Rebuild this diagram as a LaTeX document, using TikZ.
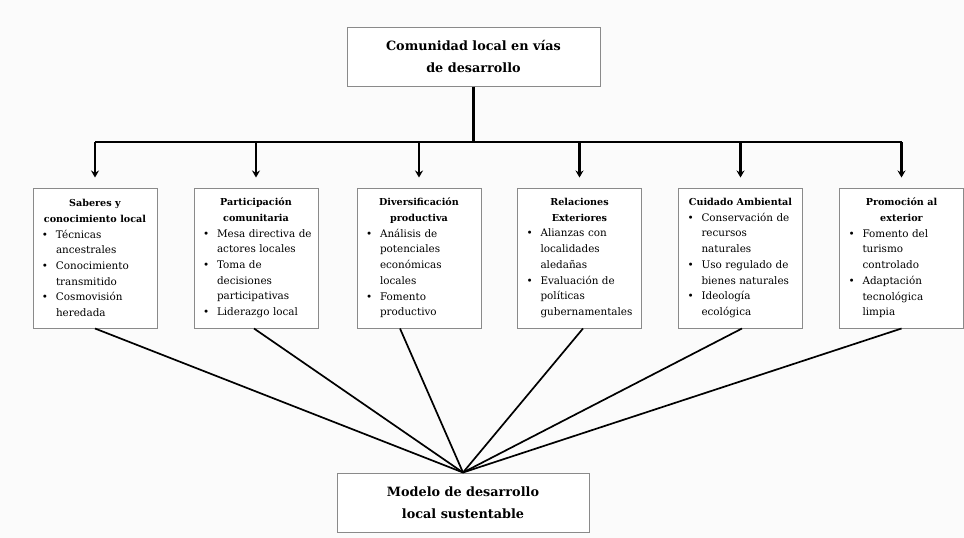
\documentclass[tikz,border=0pt]{standalone}
\usepackage{fontspec}
\setmainfont{DejaVu Serif}
\usetikzlibrary{arrows.meta}
\definecolor{boxgray}{HTML}{8A8A8A}
\definecolor{bgcol}{HTML}{FBFBFB}
\newcommand{\bu}{\makebox[19pt][l]{\hspace{5pt}\textbullet}}
\newcommand{\ct}{\hspace*{19pt}}
\newcommand{\hd}[1]{{\centering\bfseries\fontsize{9.6}{15.7}\selectfont #1\par}}
\begin{document}
\begin{tikzpicture}[x=1pt,y=-1pt,
  catbox/.style={draw=boxgray, line width=1pt, fill=white, minimum width=124pt,
    minimum height=140pt, text width=116pt, inner xsep=4pt, inner ysep=0pt,
    align=left, font=\fontsize{10.4}{15.7}\selectfont},
  mainbox/.style={draw=boxgray, line width=1pt, fill=white, minimum width=253pt,
    minimum height=59pt, align=center, font=\bfseries\fontsize{12.8}{22}\selectfont},
  arr/.style={-{Stealth[length=7pt,width=8pt]}, line width=2.1pt},
  bar/.style={line width=2.1pt},
  conn/.style={line width=1.7pt}]
\fill[bgcol] (0,0) rectangle (964,538);
\useasboundingbox (0,0) rectangle (964,538);

\node[mainbox] (top) at (473.5,56.5) {Comunidad local en vías\\de desarrollo};
\node[mainbox, minimum width=252pt] (bot) at (463,502.5) {Modelo de desarrollo\\local sustentable};

\node[catbox] (b1) at (95,258) {\hd{Saberes y\\conocimiento local}
\bu Técnicas\\ \ct ancestrales\\ \bu Conocimiento\\ \ct transmitido\\ \bu Cosmovisión\\ \ct heredada};
\node[catbox] (b2) at (256,258) {\hd{Participación\\comunitaria}
\bu Mesa directiva de\\ \ct actores locales\\ \bu Toma de\\ \ct decisiones\\ \ct participativas\\ \bu Liderazgo local};
\node[catbox] (b3) at (419,258) {\hd{Diversificación\\productiva}
\bu Análisis de\\ \ct potenciales\\ \ct económicas\\ \ct locales\\ \bu Fomento\\ \ct productivo};
\node[catbox] (b4) at (579.5,258) {\hd{Relaciones\\Exteriores}
\bu Alianzas con\\ \ct localidades\\ \ct aledañas\\ \bu Evaluación de\\ \ct políticas\\ \ct gubernamentales};
\node[catbox] (b5) at (740.5,258) {\hd{Cuidado Ambiental}
\bu Conservación de\\ \ct recursos\\ \ct naturales\\ \bu Uso regulado de\\ \ct bienes naturales\\ \bu Ideología\\ \ct ecológica};
\node[catbox] (b6) at (901.5,258) {\hd{Promoción al\\exterior}
\bu Fomento del\\ \ct turismo\\ \ct controlado\\ \bu Adaptación\\ \ct tecnológica\\ \ct limpia};

\coordinate (hub) at (top.south |- 0,142);
\draw[bar] (top.south) -- (hub);
\draw[bar] (b1.north |- hub) -- (b6.north |- hub);
\foreach \b in {b1,b2,b3,b4,b5,b6}
  \draw[arr] (\b.north |- hub) -- ([yshift=10pt]\b.north);

\draw[conn] (b1.south) -- (bot.north);
\draw[conn] ([xshift=-2pt]b2.south) -- (bot.north);
\draw[conn] ([xshift=-19pt]b3.south) -- (bot.north);
\draw[conn] ([xshift=3.5pt]b4.south) -- (bot.north);
\draw[conn] ([xshift=1.5pt]b5.south) -- (bot.north);
\draw[conn] (b6.south) -- (bot.north);
\end{tikzpicture}
\end{document}
